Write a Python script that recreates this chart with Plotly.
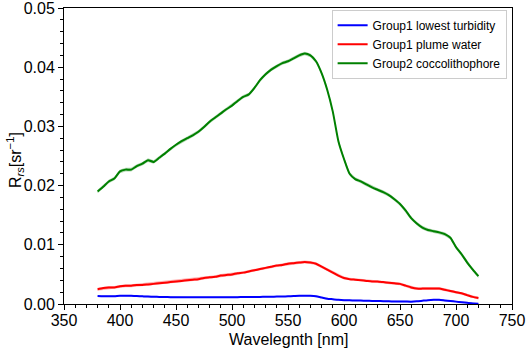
import plotly.graph_objects as go

wavelength = [380, 385, 390, 395, 400, 405, 410, 415, 420, 425, 430, 435, 440, 445, 450, 455,
              460, 465, 470, 475, 480, 485, 490, 495, 500, 505, 510, 515, 520, 525, 530, 535,
              540, 545, 550, 555, 560, 565, 570, 575, 580, 585, 590, 595, 600, 605, 610, 615,
              620, 625, 630, 635, 640, 645, 650, 655, 660, 665, 670, 675, 680, 685, 690, 695,
              700, 705, 710, 715, 720]

green_rrs = [0.0190, 0.0198, 0.0207, 0.0212, 0.0224, 0.0227, 0.0227, 0.0233, 0.0237, 0.0243,
             0.0240, 0.0247, 0.0254, 0.0262, 0.0269, 0.0275, 0.0280, 0.0285, 0.0291, 0.0299,
             0.0308, 0.0315, 0.0322, 0.0329, 0.0335, 0.0343, 0.0350, 0.0354, 0.0365, 0.0378,
             0.0388, 0.0396, 0.0402, 0.0407, 0.0410, 0.0415, 0.0420, 0.0423, 0.0420, 0.0410,
             0.0390, 0.0362, 0.0325, 0.0275, 0.0245, 0.0220, 0.0211, 0.0207, 0.0202, 0.0197,
             0.0193, 0.0189, 0.0184, 0.0177, 0.0169, 0.0158, 0.0145, 0.0136, 0.0129, 0.0125,
             0.0123, 0.0121, 0.0118, 0.0112, 0.0096, 0.0084, 0.0070, 0.0058, 0.0047]

red_rrs = [0.0025, 0.0027, 0.0028, 0.0028, 0.0030, 0.0031, 0.0031, 0.0032, 0.0032, 0.0033,
           0.0034, 0.0035, 0.0036, 0.0037, 0.0038, 0.0039, 0.0040, 0.0041, 0.0042, 0.0044,
           0.0045, 0.0046, 0.0048, 0.0049, 0.0050, 0.0052, 0.0053, 0.0055, 0.0057, 0.0059,
           0.0061, 0.0063, 0.0065, 0.0066, 0.0068, 0.0069, 0.0070, 0.0071, 0.0070, 0.0068,
           0.0063, 0.0058, 0.0053, 0.0048, 0.0044, 0.0042, 0.0041, 0.0040, 0.0039, 0.0038,
           0.0038, 0.0037, 0.0036, 0.0035, 0.0034, 0.0031, 0.0028, 0.0026, 0.0026, 0.0026,
           0.0026, 0.0026, 0.0024, 0.0022, 0.0020, 0.0018, 0.0015, 0.0012, 0.0010]

blue_rrs = [0.00135, 0.00130, 0.00132, 0.00133, 0.00140, 0.00140, 0.00138, 0.00135, 0.00130, 0.00125,
            0.00124, 0.00120, 0.00118, 0.00116, 0.00115, 0.00115, 0.00114, 0.00114, 0.00114, 0.00114,
            0.00114, 0.00114, 0.00114, 0.00114, 0.00115, 0.00116, 0.00117, 0.00118, 0.00119, 0.00120,
            0.00121, 0.00123, 0.00125, 0.00127, 0.00130, 0.00135, 0.00140, 0.00140, 0.00138, 0.00130,
            0.00110, 0.00090, 0.00080, 0.00070, 0.00065, 0.00062, 0.00060, 0.00058, 0.00055, 0.00052,
            0.00050, 0.00048, 0.00045, 0.00043, 0.00042, 0.00041, 0.00040, 0.00045, 0.00055, 0.00065,
            0.00070, 0.00070, 0.00060, 0.00050, 0.00040, 0.00030, 0.00020, 0.00010, 0.00005]

green_sd = 0.0003
red_sd = 0.00025
blue_sd = 0.0001

series = [
    ("Group1 lowest turbidity", blue_rrs, blue_sd, "#0000ff", "rgba(0,0,255,0.3)"),
    ("Group1 plume water", red_rrs, red_sd, "#ff0000", "rgba(255,0,0,0.3)"),
    ("Group2 coccolithophore", green_rrs, green_sd, "#008000", "rgba(0,128,0,0.3)"),
]

fig = go.Figure()
for name, vals, sd, col, fillcol in series:
    upper = [v + sd for v in vals]
    lower = [v - sd for v in vals]
    fig.add_trace(go.Scatter(x=wavelength + wavelength[::-1], y=upper + lower[::-1],
                             fill="toself", fillcolor=fillcol, line=dict(width=0),
                             mode="lines", showlegend=False, hoverinfo="skip"))
for name, vals, sd, col, fillcol in series:
    fig.add_trace(go.Scatter(x=wavelength, y=vals, mode="lines", name=name,
                             line=dict(color=col, width=2, shape="spline", smoothing=0.6)))

font_family = "Liberation Sans, Arial, sans-serif"
fig.update_layout(
    width=526, height=351,
    margin=dict(l=64, r=14, t=8, b=47),
    paper_bgcolor="white", plot_bgcolor="white",
    font=dict(family=font_family, size=16, color="black"),
    showlegend=True,
    legend=dict(x=0.988, y=0.994, xanchor="right", yanchor="top",
                bgcolor="rgba(255,255,255,0.8)", bordercolor="#cccccc", borderwidth=1,
                font=dict(size=12, family=font_family), tracegroupgap=0,
                itemwidth=30),
)
fig.update_xaxes(
    range=[350, 750], tickmode="linear", tick0=350, dtick=50,
    showgrid=False, zeroline=False, showline=True, linecolor="black", linewidth=1, mirror=True,
    ticks="outside", ticklen=5, tickcolor="black", ticklabeloverflow="allow",
    ticklabelstandoff=-3,
    minor=dict(dtick=10, ticks="outside", ticklen=3, tickcolor="black", showgrid=False),
    automargin=False,
)
fig.update_yaxes(
    range=[0, 0.05], tickmode="linear", tick0=0, dtick=0.01, tickformat=".2f",
    showgrid=False, zeroline=False, showline=True, linecolor="black", linewidth=1, mirror=True,
    ticks="outside", ticklen=5, tickcolor="black", ticklabeloverflow="allow",
    minor=dict(dtick=0.002, ticks="outside", ticklen=3, tickcolor="black", showgrid=False),
    automargin=False,
)
fig.add_annotation(text="Wavelegnth [nm]", xref="paper", yref="paper",
                   x=0.5, y=-0.085, xanchor="center", yanchor="top", showarrow=False,
                   font=dict(size=16, family=font_family, color="black"))
fig.add_annotation(text="R<sub><i>rs</i></sub>[sr<sup>−1</sup>]", xref="paper", yref="paper",
                   x=-0.108, y=0.485, xanchor="center", yanchor="middle", showarrow=False,
                   textangle=-90, font=dict(size=16, family=font_family, color="black"))

fig.write_html("out.html", config={"displayModeBar": False},
               post_script="document.body.style.margin='0';document.body.style.padding='0';")
